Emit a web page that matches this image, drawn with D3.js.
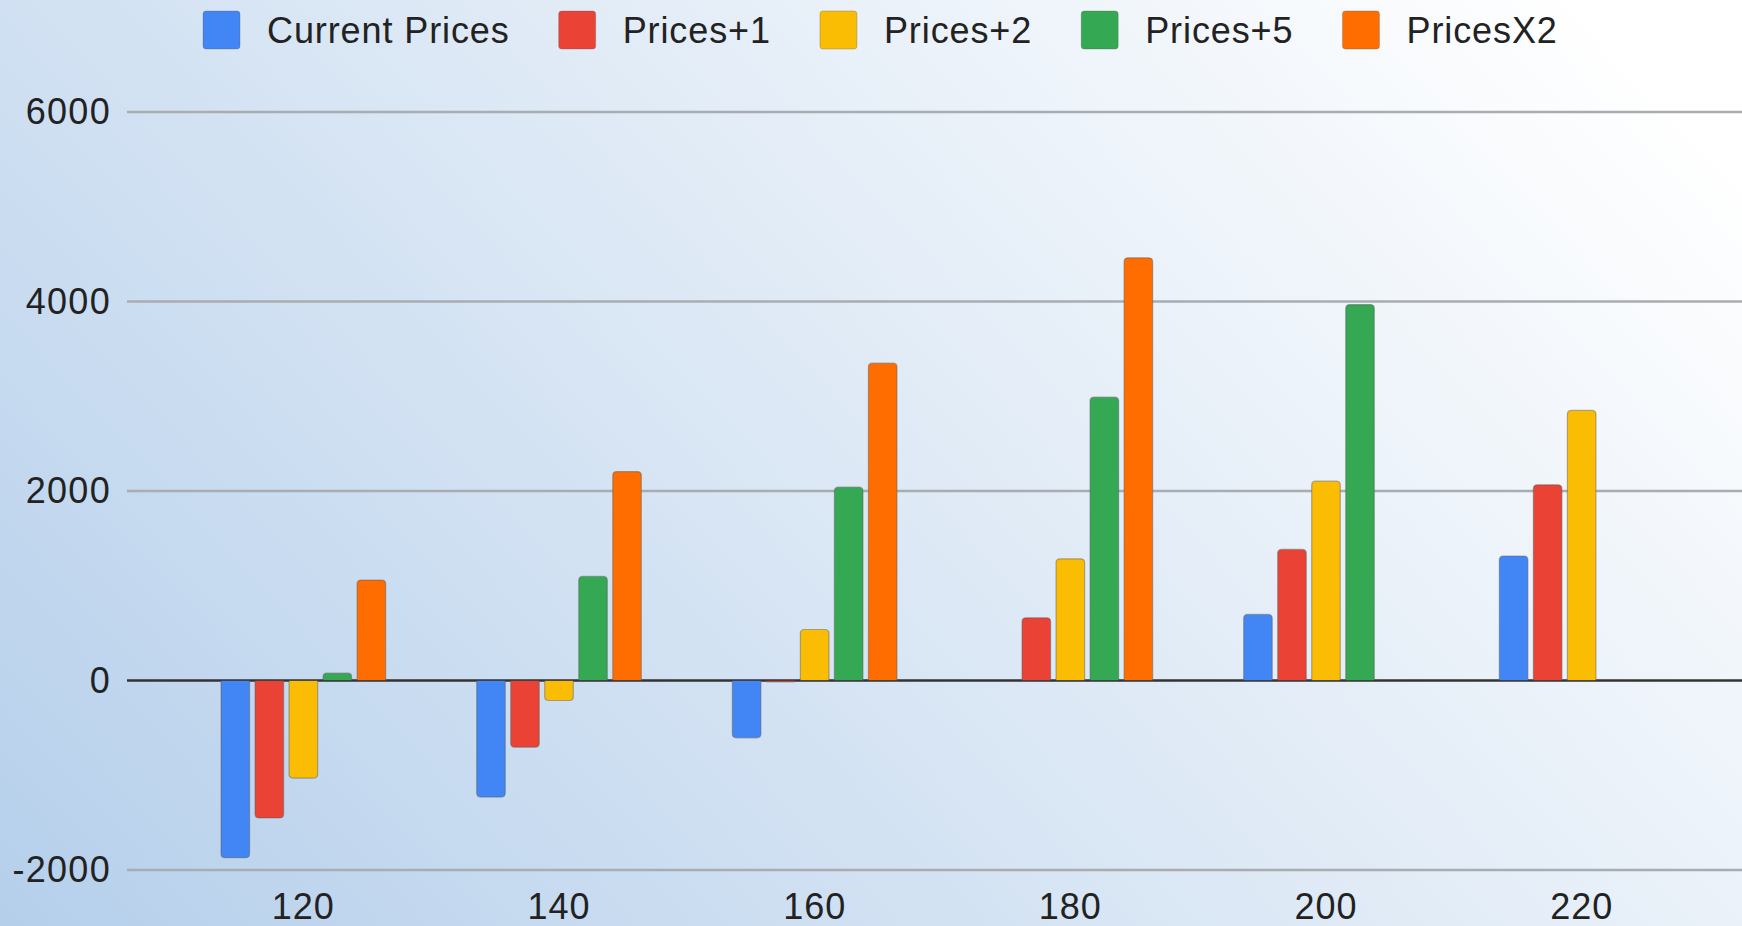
<!DOCTYPE html>
<html>
<head>
<meta charset="utf-8">
<script src="https://cdn.jsdelivr.net/npm/d3@7"></script>
<style>
  html, body { margin: 0; padding: 0; overflow: hidden; }
  svg { display: block; }
  text { font-family: "Liberation Sans", Arial, sans-serif; fill: #222; }
</style>
</head>
<body>
<svg id="chart" width="1742" height="926"></svg>
<script>
// ---- data ----
const categories = ["120", "140", "160", "180", "200", "220"];
const seriesNames = ["Current Prices", "Prices+1", "Prices+2", "Prices+5", "PricesX2"];
const currentPrices = [-1870, -1230, -605, null, 697, 1314];
const pricesPlus1 = [-1450, -704, -15, 662, 1383, 2065];
const pricesPlus2 = [-1030, -211, 538, 1284, 2104, 2850];
const pricesPlus5 = [77, 1098, 2040, 2990, 3968, null];
const pricesX2 = [1060, 2205, 3349, 4461, null, null];
const yTicks = [-2000, 0, 2000, 4000, 6000];
const colors = ["#4285F4", "#EA4335", "#FBBC04", "#34A853", "#FF6D01"];

const seriesValues = [currentPrices, pricesPlus1, pricesPlus2, pricesPlus5, pricesX2];

const W = 1742, H = 926;
const svg = d3.select("#chart");

// background gradient
const defs = svg.append("defs");
const grad = defs.append("linearGradient").attr("id", "bg")
  .attr("gradientUnits", "userSpaceOnUse")
  .attr("x1", 0).attr("y1", H).attr("x2", 1300).attr("y2", -300);
grad.append("stop").attr("offset", 0).attr("stop-color", "#b5cfeb");
grad.append("stop").attr("offset", 0.55).attr("stop-color", "#dfeaf6");
grad.append("stop").attr("offset", 1).attr("stop-color", "#ffffff");
svg.append("rect").attr("width", W).attr("height", H).attr("fill", "url(#bg)");

// scales
const plotLeft = 127, plotRight = 1742;
const y = d3.scaleLinear().domain([-2000, 6000]).range([870, 112]);
const x0 = d3.scaleBand().domain(categories).range([130, 1755])
  .paddingInner(0.356).paddingOuter(0.356);
const x1 = d3.scaleBand().domain(seriesNames).range([0, x0.bandwidth()])
  .paddingInner(0.16);

// gridlines
const grid = svg.append("g");
grid.selectAll("line").data(yTicks).join("line")
  .attr("x1", plotLeft).attr("x2", plotRight)
  .attr("y1", d => y(d)).attr("y2", d => y(d))
  .attr("stroke", d => d === 0 ? "#333" : "#a9adb2")
  .attr("stroke-width", 2.4);

// y axis labels
const yAxis = d3.axisLeft(y).tickValues(yTicks).tickSize(0).tickPadding(0)
  .tickFormat(d => String(d));
const yg = svg.append("g").attr("transform", `translate(111,0)`).call(yAxis);
yg.select(".domain").remove();
yg.selectAll("text").style("font-size", "36px").attr("fill", "#222")
  .style("letter-spacing", "1.3px")
  .style("font-family", "'Liberation Sans', Arial, sans-serif");

// x axis labels
const xAxis = d3.axisBottom(x0).tickSize(0).tickPadding(0);
const xg = svg.append("g").attr("transform", `translate(0,893)`).call(xAxis);
xg.select(".domain").remove();
xg.selectAll("text").style("font-size", "36px").attr("fill", "#222")
  .attr("dy", "0.72em")
  .style("letter-spacing", "1px")
  .style("font-family", "'Liberation Sans', Arial, sans-serif");

// bars with rounded outer end
function barPath(xp, w, v) {
  const y0 = y(0), yv = y(v);
  const r = Math.min(4, Math.abs(y0 - yv) / 2, w / 2);
  if (v >= 0) {
    return `M${xp},${y0} V${yv + r} Q${xp},${yv} ${xp + r},${yv} H${xp + w - r} Q${xp + w},${yv} ${xp + w},${yv + r} V${y0} Z`;
  } else {
    return `M${xp},${y0} V${yv - r} Q${xp},${yv} ${xp + r},${yv} H${xp + w - r} Q${xp + w},${yv} ${xp + w},${yv - r} V${y0} Z`;
  }
}

const bars = [];
categories.forEach((c, ci) => {
  seriesNames.forEach((s, si) => {
    const v = seriesValues[si][ci];
    if (v !== null && v !== undefined) bars.push({ c, s, si, v });
  });
});

svg.append("g").selectAll("path").data(bars).join("path")
  .attr("d", d => barPath(x0(d.c) + x1(d.s), x1.bandwidth(), d.v))
  .attr("fill", d => colors[d.si])
  .attr("stroke", "rgba(90,90,90,0.45)")
  .attr("stroke-width", 1.2);

// zero line over bars
svg.append("line").attr("x1", plotLeft).attr("x2", plotRight)
  .attr("y1", y(0)).attr("y2", y(0)).attr("stroke", "#333").attr("stroke-width", 1.2)
  .attr("opacity", 0.6);

// legend
const legend = svg.append("g");
let lx = 203;
seriesNames.forEach((name, i) => {
  const g = legend.append("g").attr("transform", `translate(${lx},0)`);
  g.append("rect").attr("x", 0).attr("y", 11).attr("width", 37).attr("height", 38)
    .attr("rx", 3).attr("fill", colors[i])
    .attr("stroke", "rgba(90,90,90,0.3)").attr("stroke-width", 1);
  const t = g.append("text").attr("x", 64).attr("y", 43)
    .style("font-size", "36px").style("letter-spacing", "0.9px").text(name);
  const tw = t.node().getComputedTextLength();
  lx += 64 + tw + 49;
});
</script>
</body>
</html>
